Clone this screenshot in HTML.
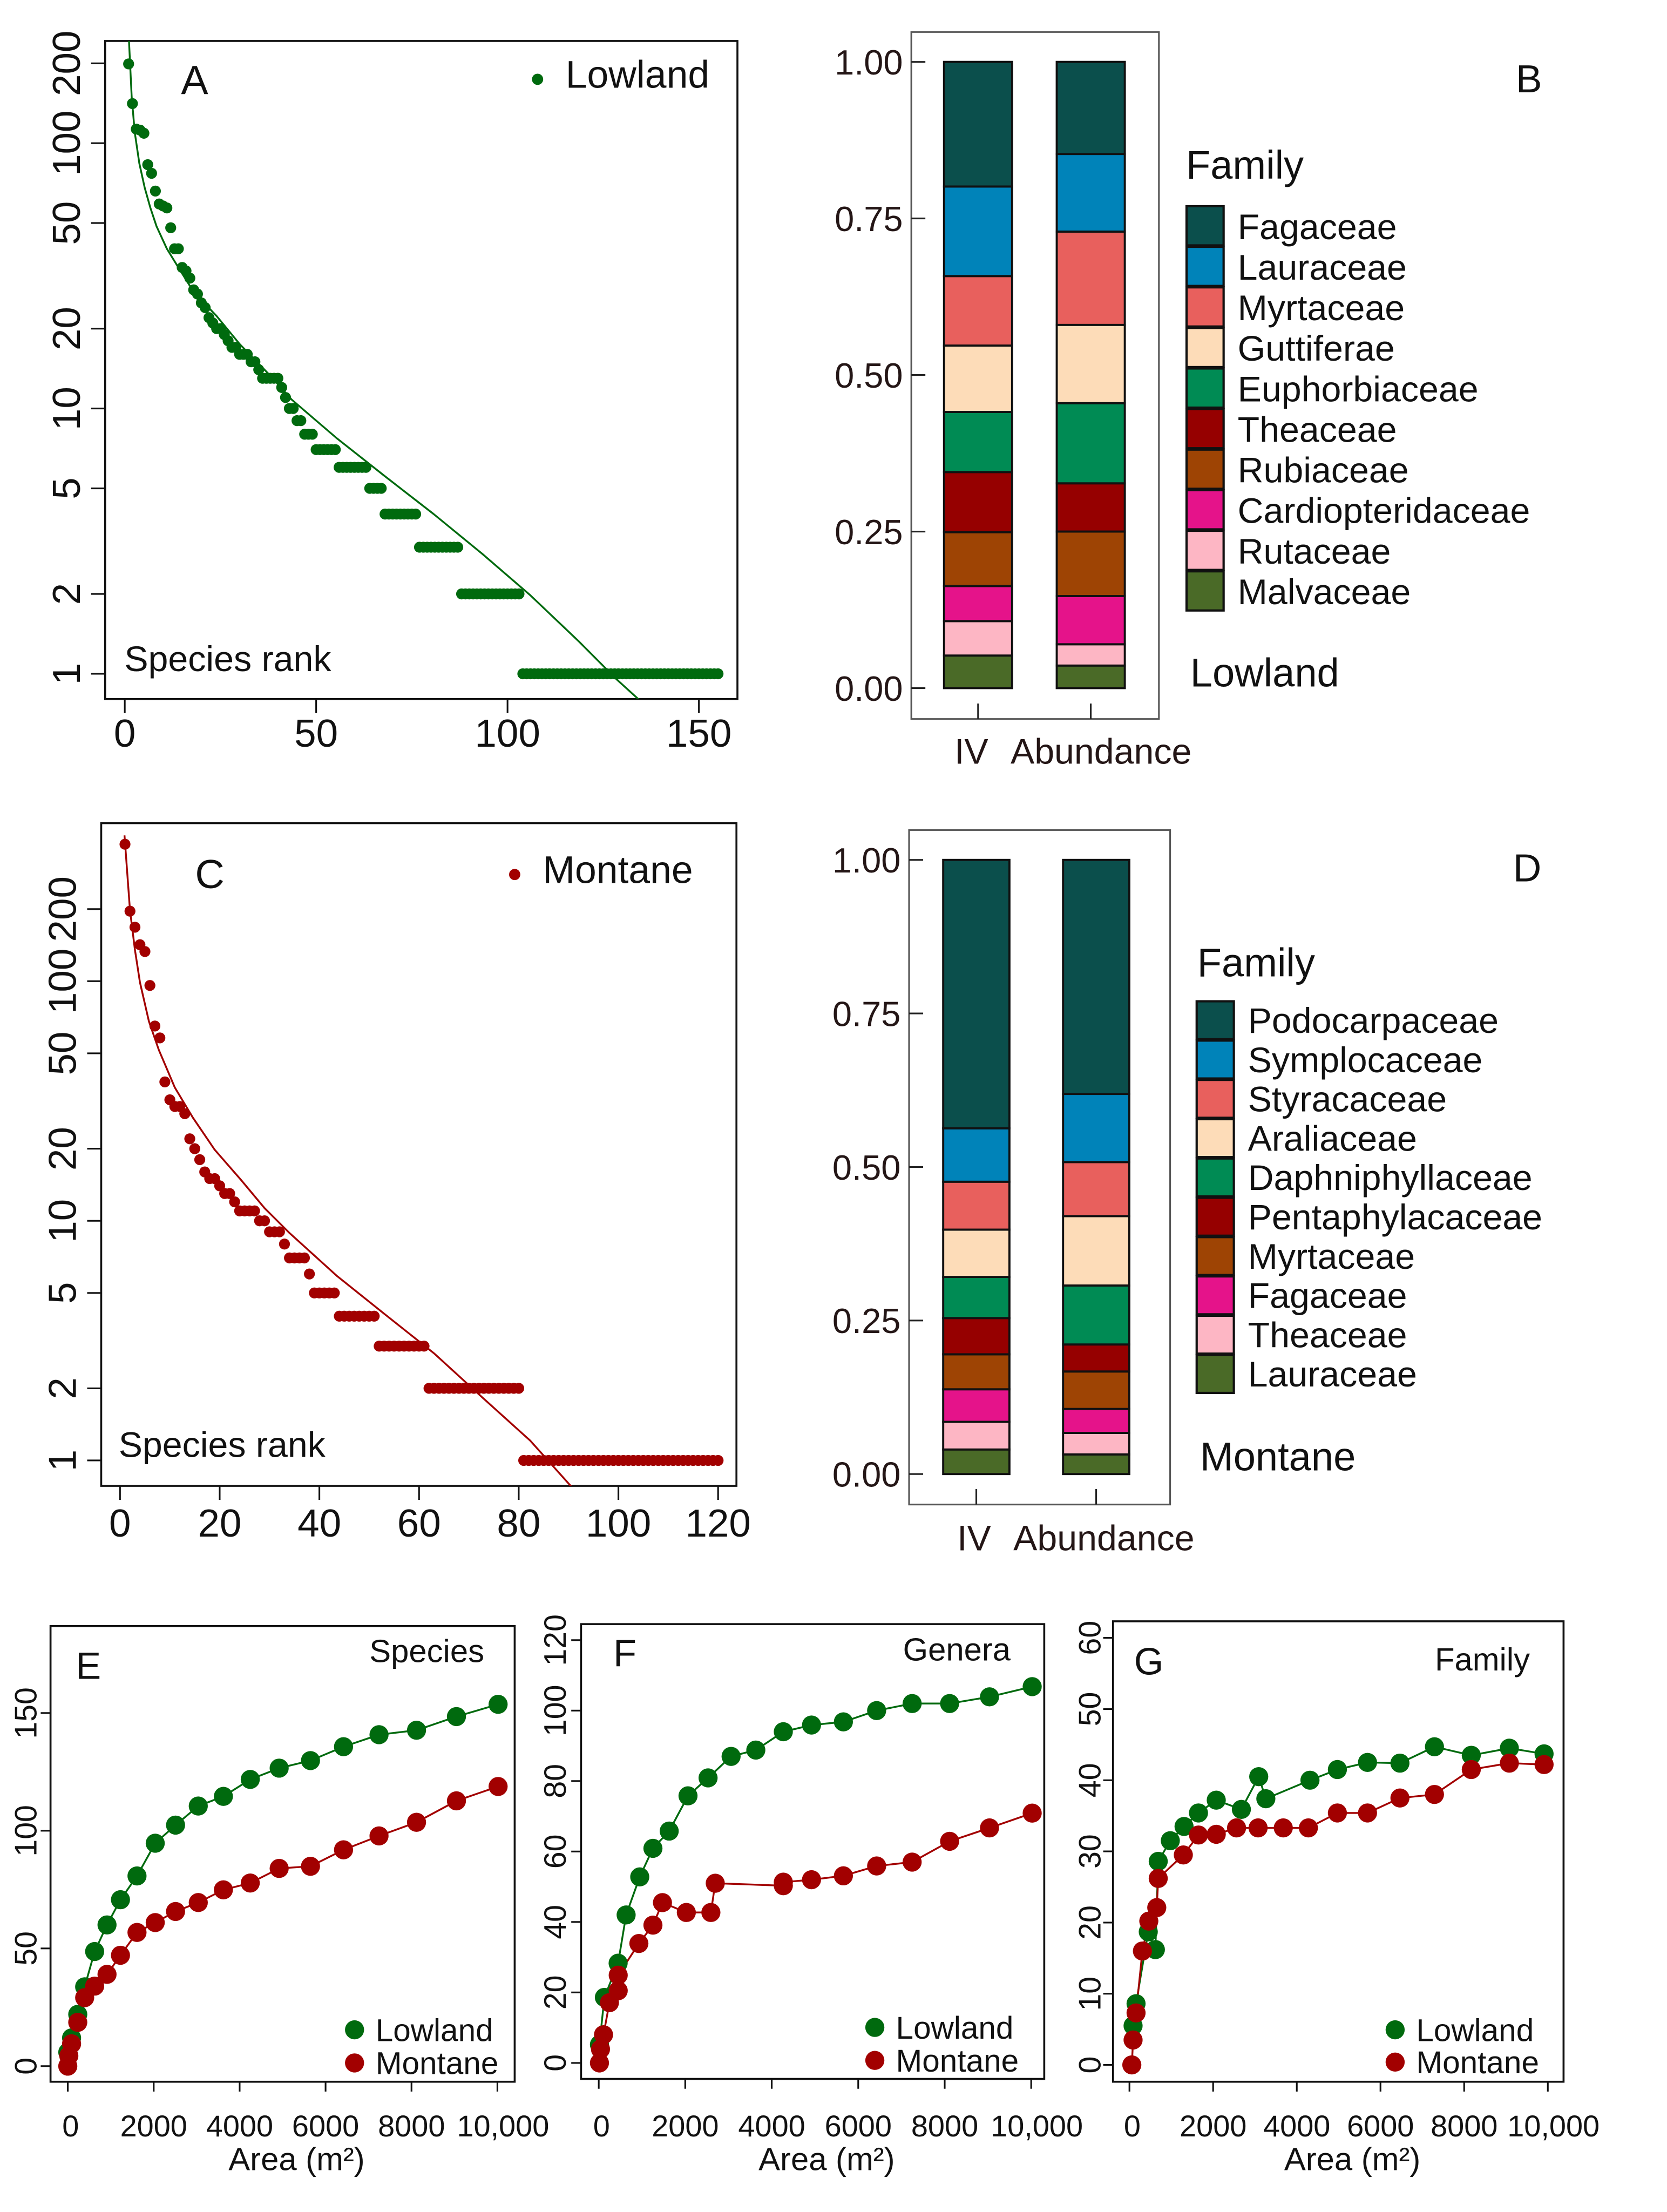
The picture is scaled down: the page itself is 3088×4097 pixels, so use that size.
<!DOCTYPE html>
<html><head><meta charset="utf-8">
<style>
html,body{margin:0;padding:0;background:#fff;}
svg{display:block;font-family:"Liberation Sans",Arial,sans-serif;}
</style></head>
<body>
<svg id="fig" xmlns="http://www.w3.org/2000/svg" width="3088" height="4097" viewBox="0 0 1187.7 1575.8" preserveAspectRatio="none">
<rect x="0" y="0" width="1187.7" height="1575.8" fill="#fff"/>
</svg>
<script>
// ---------- DATA ----------
const lowlandAbund = [199,141,113,112,109,83,77,66,59,58,57,48,40,40,34,33,31,28,27,25,24,22,21,20,20,19,18,17,17,16,16,16,15,15,14,13,13,13,13,13,12,11,10,10,9,9,
8,8,8,
7,7,7,7,7,7,
6,6,6,6,6,6,6,6,
5,5,5,5,
4,4,4,4,4,4,4,4,4,
3,3,3,3,3,3,3,3,3,3,3,
2,2,2,2,2,2,2,2,2,2,2,2,2,2,2,2,
1,1,1,1,1,1,1,1,1,1,1,1,1,
1,1,1,1,1,1,1,1,1,1,1,1,1,
1,1,1,1,1,1,1,1,1,1,1,1,1,
1,1,1,1,1,1,1,1,1,1,1,1,1];
const lowlandFitRank = [0.8,1.1,1.8,2.6,3.8,5.2,6.7,8.3,11,14,18,24,30,38,43.6,55.5,68,80.7,93.3,105.9,118.5,128.6,134.3];
const lowlandFitVal = [330,243,150,110,84,68,57,48.6,40,34,27.5,22.3,17.5,13.3,10.8,7.7,5.55,4.0,2.84,1.98,1.33,0.95,0.8];

const montaneAbund = [373,196,168,142,133,96,65,58,38,32,30,30,28,22,20,18,16,15,15,14,13,13,12,11,11,11,11,10,10,9,9,9,8,7,7,7,7,6,
5,5,5,5,5,
4,4,4,4,4,4,4,4,
3,3,3,3,3,3,3,3,3,3,
2,2,2,2,2,2,2,2,2,2,2,2,2,2,2,2,2,2,2,
1,1,1,1,1,1,1,1,1,1,1,1,1,1,1,1,1,1,1,1,
1,1,1,1,1,1,1,1,1,1,1,1,1,1,1,1,1,1,1,1];
const montaneFitRank = [0.9,2,3,4,5.8,7.8,11,14.6,19,24.3,29,34,43.6,53.3,63,72.6,82.3,90.5];
const montaneFitVal = [406,198,135,99,68,51.6,36,27,19.8,14.8,11.3,8.9,5.87,4.05,2.8,1.84,1.21,0.78];

const rankYTicks = [1,2,5,10,20,50,100,200];
const lowlandXTicks = [0,50,100,150];
const montaneXTicks = [0,20,40,60,80,100,120];

const stackCats = ["IV","Abundance"];
const stackTicks = [0,0.25,0.5,0.75,1];
const stackTickLabels = ["0.00","0.25","0.50","0.75","1.00"];
const familyColors = ["#0b4f4c","#0083b9","#e8605d","#fddcb8","#008b54","#960000","#9e4404","#e5138a","#fdb6c4","#4a6a27"];
const lowlandFamilies = ["Fagaceae","Lauraceae","Myrtaceae","Guttiferae","Euphorbiaceae","Theaceae","Rubiaceae","Cardiopteridaceae","Rutaceae","Malvaceae"];
const lowlandIV = [0.199,0.143,0.111,0.106,0.096,0.096,0.086,0.056,0.055,0.052];
const lowlandAb = [0.147,0.124,0.149,0.125,0.128,0.077,0.103,0.077,0.034,0.036];
const montaneFamilies = ["Podocarpaceae","Symplocaceae","Styracaceae","Araliaceae","Daphniphyllaceae","Pentaphylacaceae","Myrtaceae","Fagaceae","Theaceae","Lauraceae"];
const montaneIV = [0.437,0.087,0.078,0.077,0.067,0.059,0.057,0.053,0.045,0.040];
const montaneAb = [0.381,0.111,0.088,0.113,0.096,0.044,0.061,0.039,0.035,0.032];

const areaTicks = [0,2000,4000,6000,8000,10000];
const areaTickLabels = ["0","2000","4000","6000","8000","10,000"];
const speciesLowArea = [0,88,232,393,625,913,1226,1611,2035,2508,3037,3622,4247,4920,5649,6418,7244,8117,9046,10016];
const speciesLow = [5.9,12,22,33.7,48.7,60,70.7,80.8,94.7,102.4,110.5,114.6,121.8,126.6,129.8,135.7,140.8,142.7,148.5,153.7];
const speciesMonArea = [0,24,88,232,393,625,913,1226,1611,2035,2508,3037,3622,4247,4920,5649,6418,7244,8117,9046,10016];
const speciesMon = [0,4.4,9.5,18.6,29.1,34,39,47.1,56.8,61,65.7,69.5,74.9,77.8,84,84.9,91.9,97.8,103.6,112.7,118.8];
const speciesYTicks = [0,50,100,150];
const generaLowArea = [16,130,448,633,948,1253,1629,2064,2528,3060,3632,4268,4920,5657,6426,7247,8114,9036,10023];
const generaLow = [5.2,18.6,28.3,42,52.8,60.9,65.8,75.8,80.9,87,88.8,94,95.9,96.8,100,102,102,103.9,106.8];
const generaMonArea = [16,40,110,247,450,450,928,1253,1473,2025,2593,2694,4268,4268,4920,5657,6426,7247,8114,9036,10023];
const generaMon = [0,3.9,8,17.1,20.5,24.9,33.9,39.1,45.5,42.7,42.7,51,50.3,51.3,52,53.1,55.9,57,62.9,66.7,70.9];
const generaYTicks = [0,20,40,60,80,100,120];
const familyLowArea = [87,158,450,620,688,977,1305,1650,2075,2675,3090,3260,4315,4970,5690,6465,7290,8170,9080,9910];
const familyLow = [5.5,8.6,18.7,16.2,28.6,31.5,33.5,35.4,37.2,35.9,40.5,37.4,40,41.5,42.5,42.4,44.7,43.5,44.5,43.7];
const familyMonArea = [57,87,158,310,463,653,688,1288,1650,2075,2560,3075,3677,4277,4970,5690,6465,7290,8170,9080,9910];
const familyMon = [0,3.5,7.3,16,20.2,22.1,26.2,29.5,32.3,32.4,33.3,33.3,33.3,33.3,35.4,35.4,37.5,38,41.5,42.4,42.2];
const familyYTicks = [0,10,20,30,40,50,60];

// ---------- HELPERS ----------
const NS = 'http://www.w3.org/2000/svg';
const svg = document.getElementById('fig');
function mk(tag, attrs, parent) {
  const e = document.createElementNS(NS, tag);
  for (const k in attrs) e.setAttribute(k, attrs[k]);
  (parent || svg).appendChild(e);
  return e;
}
function txt(parent, x, y, s, size, anchor, extra) {
  const t = mk('text', Object.assign({x: x, y: y, 'font-size': size, 'text-anchor': anchor || 'start', fill: '#111'}, extra || {}), parent);
  t.textContent = s;
  return t;
}
const GREEN = '#006a0e', RED = '#a20000';
let clipN = 0;

// ---------- RANK ABUNDANCE ----------
function drawRank(cfg) {
  const g = mk('g', {});
  
  
  const sx = r => cfg.x0 + (r - cfg.rmin) * cfg.xs;
  const sy = v => cfg.y1 - Math.log10(v) * cfg.dec;
  const box = mk('rect', {x: cfg.bx, y: cfg.by, width: cfg.bw, height: cfg.bh, fill: 'none', stroke: '#111', 'stroke-width': 1.4}, g);
  
  
  const cid = 'clip' + (clipN++);
  const cp = mk('clipPath', {id: cid}, g);
  mk('rect', {x: cfg.bx, y: cfg.by, width: cfg.bw, height: cfg.bh}, cp);
  cfg.yticks.forEach(v => {
    const y = sy(v);
    const tk = mk('line', {x1: cfg.bx - 10, x2: cfg.bx, y1: y, y2: y, stroke: '#111', 'stroke-width': 1.2}, g);
    
    
    const lb = txt(g, cfg.ylx, y, String(v), 28, 'middle', {transform: 'rotate(-90 ' + cfg.ylx + ' ' + y + ')'});
    
    
  });
  cfg.xticks.forEach(v => {
    const x = sx(v);
    const tk = mk('line', {x1: x, x2: x, y1: cfg.by + cfg.bh, y2: cfg.by + cfg.bh + 10, stroke: '#111', 'stroke-width': 1.2}, g);
    
    
    const lb = txt(g, x, cfg.xlb, String(v), 28, 'middle');
    
    
  });
  const pts = cfg.fitR.map((r, i) => sx(r).toFixed(2) + ',' + sy(cfg.fitV[i]).toFixed(2)).join(' ');
  const fl = mk('polyline', {points: pts, fill: 'none', stroke: cfg.color, 'stroke-width': 1.3, 'stroke-linejoin': 'round', 'clip-path': 'url(#' + cid + ')'}, g);
  
  
  cfg.data.forEach((v, i) => {
    const c = mk('circle', {cx: sx(i + 1), cy: sy(v), r: 3.9, fill: cfg.color}, g);
    
    
  });
  const pl = txt(g, cfg.letterX, cfg.letterY, cfg.letter, 29, 'start');
  
  
  const ld = mk('circle', {cx: cfg.legX, cy: cfg.legY - 6, r: 4, fill: cfg.color}, g);
  
  
  const lt = txt(g, cfg.legX + 20, cfg.legY, cfg.legText, 27.5, 'start');
  
  
  const sr = txt(g, cfg.srX, cfg.srY, 'Species rank', 25.5, 'start');
  
  
}

drawRank({name: 'panel-a-lowland-rank', bx: 74.9, by: 29.2, bw: 450.5, bh: 468.8, x0: 88.9, rmin: 0, xs: 2.727, y1: 480, dec: 189,
  yticks: rankYTicks, xticks: lowlandXTicks, ylx: 57, xlb: 532, data: lowlandAbund, fitR: lowlandFitRank, fitV: lowlandFitVal,
  color: GREEN, letter: 'A', letterX: 129, letterY: 67, legX: 383, legY: 62.5, legText: 'Lowland', srX: 88.6, srY: 478});
drawRank({name: 'panel-c-montane-rank', bx: 72.1, by: 586.4, bw: 452.6, bh: 472.1, x0: 85.5, rmin: 0, xs: 3.551, y1: 1040.4, dec: 170.7,
  yticks: rankYTicks, xticks: montaneXTicks, ylx: 54, xlb: 1094.6, data: montaneAbund, fitR: montaneFitRank, fitV: montaneFitVal,
  color: RED, letter: 'C', letterX: 139, letterY: 632.7, legX: 366.7, legY: 629, legText: 'Montane', srX: 84.5, srY: 1038});

// ---------- STACKED BARS ----------
function drawStack(cfg) {
  const g = mk('g', {});
  
  
  const sy = v => cfg.y0 - v * cfg.ys;
  const box = mk('rect', {x: cfg.bx, y: cfg.by, width: cfg.bw, height: cfg.bh, fill: 'none', stroke: '#555', 'stroke-width': 1.2}, g);
  
  
  stackTicks.forEach((v, i) => {
    const y = sy(v);
    const tk = mk('line', {x1: cfg.bx, x2: cfg.bx + 10, y1: y, y2: y, stroke: '#222', 'stroke-width': 1.2}, g);
    
    
    const lb = txt(g, cfg.bx - 6, y + 9, stackTickLabels[i], 25, 'end', {fill: '#241616'});
    
    
  });
  [cfg.iv, cfg.ab].forEach((vals, bi) => {
    const bx = cfg.barX[bi];
    let cum = 0;
    for (let k = vals.length - 1; k >= 0; k--) {
      const top = cum + vals[k];
      const r = mk('rect', {x: bx, y: sy(top), width: cfg.barW, height: sy(cum) - sy(top), fill: familyColors[k], stroke: '#111', 'stroke-width': 1.5}, g);
      
      
      cum = top;
    }
    const cx = bx + cfg.barW / 2;
    const tk = mk('line', {x1: cx, x2: cx, y1: cfg.by + cfg.bh - 11, y2: cfg.by + cfg.bh, stroke: '#222', 'stroke-width': 1.2}, g);
    
    
  });
  const l1 = txt(g, cfg.ivX, cfg.xlb, stackCats[0], 25.5, 'start', {fill: '#241616'});
  
  
  const l2 = txt(g, cfg.abX, cfg.xlb, stackCats[1], 25.5, 'start', {fill: '#241616'});
  
  
  const ft = txt(g, cfg.famX, cfg.famY, 'Family', 28.5, 'start');
  
  
  cfg.families.forEach((f, k) => {
    const y = cfg.swY + k * cfg.swStep;
    const s = mk('rect', {x: cfg.swX, y: y, width: cfg.swW, height: cfg.swStep - 1, fill: familyColors[k], stroke: '#111', 'stroke-width': 1.6}, g);
    
    
    const t = txt(g, cfg.swX + cfg.swW + 10, y + cfg.swStep - 5.5, f, 25.5, 'start');
    
    
  });
  const rg = txt(g, cfg.regX, cfg.regY, cfg.region, 28.5, 'start');
  
  
  const pl = txt(g, cfg.letX, cfg.letY, cfg.letter, 28, 'start');
  
  
}
drawStack({name: 'panel-b-lowland-families', bx: 649.3, by: 22.8, bw: 176.4, bh: 489.4, y0: 490.2, ys: 446.1,
  barX: [672.6, 752.9], barW: 48.5, iv: lowlandIV, ab: lowlandAb, families: lowlandFamilies,
  ivX: 680, abX: 720, xlb: 544, famX: 845, famY: 127.3, swX: 845.4, swY: 146.9, swW: 26.4, swStep: 28.9,
  region: 'Lowland', regX: 848, regY: 489, letter: 'B', letX: 1080, letY: 65.8});
drawStack({name: 'panel-d-montane-families', bx: 647.7, by: 591.3, bw: 186, bh: 480.5, y0: 1050.1, ys: 437.5,
  barX: [672, 757.4], barW: 47.2, iv: montaneIV, ab: montaneAb, families: montaneFamilies,
  ivX: 682, abX: 722, xlb: 1104.5, famX: 853, famY: 695.5, swX: 852.6, swY: 713.3, swW: 26.5, swStep: 28.0,
  region: 'Montane', regX: 855, regY: 1047.6, letter: 'D', letX: 1078, letY: 627.9});

// ---------- ACCUMULATION ----------
function drawAcc(cfg) {
  const g = mk('g', {});
  
  
  const sx = a => cfg.x0 + a * cfg.xs;
  const sy = v => cfg.y0 - v * cfg.ys;
  const box = mk('rect', {x: cfg.bx, y: cfg.by, width: cfg.bw, height: cfg.bh, fill: 'none', stroke: '#111', 'stroke-width': 1.4}, g);
  
  
  cfg.yticks.forEach(v => {
    const y = sy(v);
    const tk = mk('line', {x1: cfg.bx - 7, x2: cfg.bx, y1: y, y2: y, stroke: '#111', 'stroke-width': 1.2}, g);
    
    
    const lb = txt(g, cfg.ylx, y, String(v), 22, 'middle', {transform: 'rotate(-90 ' + cfg.ylx + ' ' + y + ')'});
    
    
  });
  areaTicks.forEach((v, i) => {
    const x = sx(v);
    const tk = mk('line', {x1: x, x2: x, y1: cfg.by + cfg.bh, y2: cfg.by + cfg.bh + 7, stroke: '#111', 'stroke-width': 1.2}, g);
    
    
    const lb = txt(g, x + (i === 0 ? 2 : 0) + (i === 5 ? 4 : 0), 1522, areaTickLabels[i], 21.5, 'middle');
    
    
  });
  const at = txt(g, cfg.bx + cfg.bw / 2 + 10, 1546, 'Area (m²)', 23, 'middle');
  
  
  [[cfg.lowA, cfg.low, GREEN, 'lowland'], [cfg.monA, cfg.mon, RED, 'montane']].forEach(s => {
    const pts = s[0].map((a, i) => sx(a).toFixed(2) + ',' + sy(s[1][i]).toFixed(2)).join(' ');
    const ln = mk('polyline', {points: pts, fill: 'none', stroke: s[2], 'stroke-width': 1.3}, g);
    
    
  });
  [[cfg.lowA, cfg.low, GREEN, 'lowland'], [cfg.monA, cfg.mon, RED, 'montane']].forEach(s => {
    s[0].forEach((a, i) => {
      const c = mk('circle', {cx: sx(a), cy: sy(s[1][i]), r: 6.8, fill: s[2]}, g);
      
      
    });
  });
  const pl = txt(g, cfg.letX, cfg.letY, cfg.letter, 27, 'start');
  
  
  const tt = txt(g, cfg.titX, cfg.titY, cfg.title, 23, 'end');
  
  
  const m1 = mk('circle', {cx: cfg.legX, cy: cfg.legY1, r: 6.8, fill: GREEN}, g);
  
  
  const t1 = txt(g, cfg.legX + 15, cfg.legY1 + 8, 'Lowland', 22.5, 'start');
  
  
  const m2 = mk('circle', {cx: cfg.legX, cy: cfg.legY2, r: 6.8, fill: RED}, g);
  
  
  const t2 = txt(g, cfg.legX + 15, cfg.legY2 + 8, 'Montane', 22.5, 'start');
  
  
}
drawAcc({name: 'panel-e-species-accumulation', bx: 36, by: 1158.4, bw: 330.7, bh: 324.6, x0: 48.3, xs: 0.03061, y0: 1471.9, ys: 1.677,
  yticks: speciesYTicks, ylx: 26, lowA: speciesLowArea, low: speciesLow, monA: speciesMonArea, mon: speciesMon,
  letter: 'E', letX: 54, letY: 1196, title: 'Species', titX: 345, titY: 1184, legX: 252.6, legY1: 1446, legY2: 1469.6});
drawAcc({name: 'panel-f-genera-accumulation', bx: 414, by: 1157, bw: 330, bh: 324, x0: 426.6, xs: 0.03081, y0: 1469.6, ys: 2.51,
  yticks: generaYTicks, ylx: 403, lowA: generaLowArea, low: generaLow, monA: generaMonArea, mon: generaMon,
  letter: 'F', letX: 437, letY: 1187, title: 'Genera', titX: 720, titY: 1183, legX: 623.3, legY1: 1444.3, legY2: 1467.8});
drawAcc({name: 'panel-g-family-accumulation', bx: 793, by: 1155, bw: 321, bh: 328, x0: 804.7, xs: 0.02981, y0: 1471, ys: 5.07,
  yticks: familyYTicks, ylx: 784, lowA: familyLowArea, low: familyLow, monA: familyMonArea, mon: familyMon,
  letter: 'G', letX: 808, letY: 1193, title: 'Family', titX: 1090, titY: 1190, legX: 994, legY1: 1446, legY2: 1469});
</script>
</body></html>
